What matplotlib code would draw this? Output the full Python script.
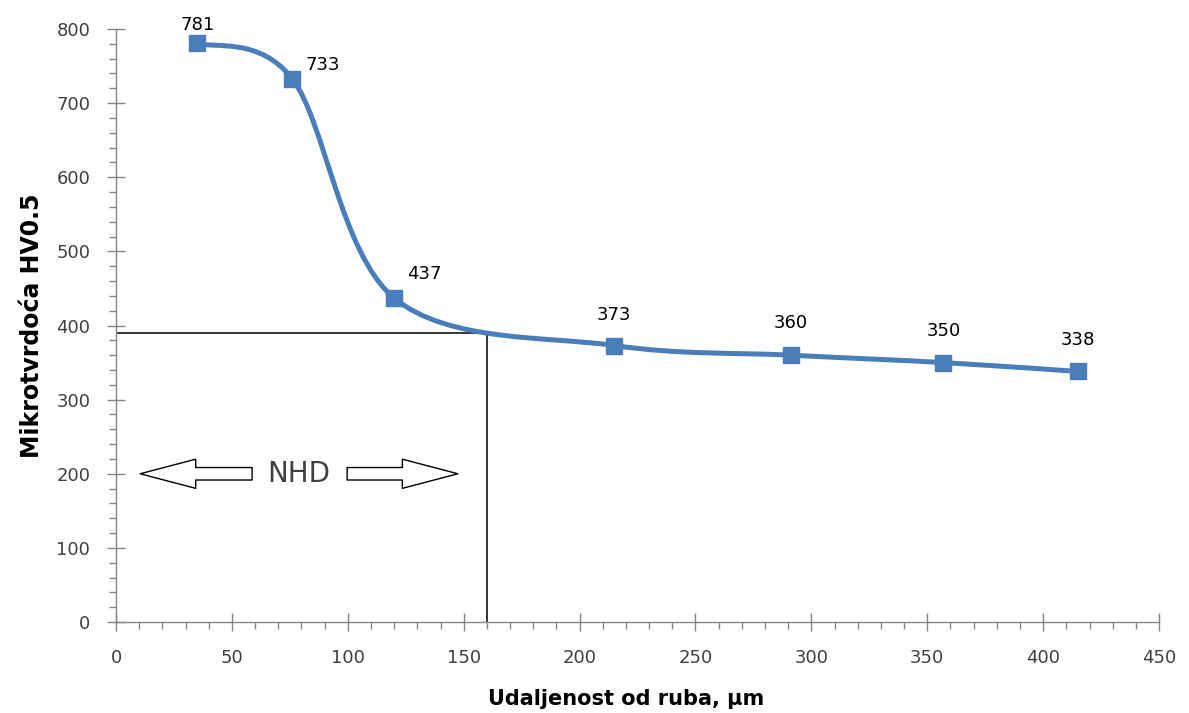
import matplotlib
matplotlib.use("Agg")
import matplotlib.pyplot as plt
from matplotlib.path import Path
from matplotlib.patches import PathPatch, FancyArrowPatch
from matplotlib.ticker import MultipleLocator
import numpy as np

# measured microhardness profile
distance = [35, 76, 120, 215, 291, 357, 415]
hardness = [781, 733, 437, 373, 360, 350, 338]
labels = ["781", "733", "437", "373", "360", "350", "338"]

# NHD limit lines
nhd_x = 160
nhd_y = 390

BLUE = "#4A7EBB"
GREY_TXT = "#404040"
AXIS_GREY = "#868686"


def excel_smooth_path(xs, ys):
    """Cubic bezier through the points, roughly like Excel's smoothed line."""
    pts = np.column_stack([xs, ys]).astype(float)
    ext = np.vstack([pts[0], pts, pts[-1]])
    verts = [tuple(pts[0])]
    codes = [Path.MOVETO]
    for i in range(1, len(ext) - 2):
        p0, p1, p2, p3 = ext[i - 1], ext[i], ext[i + 1], ext[i + 2]
        c1 = p1 + (p2 - p0) / 6
        c2 = p2 - (p3 - p1) / 6
        verts += [tuple(c1), tuple(c2), tuple(p2)]
        codes += [Path.CURVE4] * 3
    return Path(verts, codes)


fig = plt.figure(figsize=(11.89, 7.13), dpi=100)
ax = fig.add_axes([0.0976, 0.1276, 0.8772, 0.8317])

ax.set_xlim(0, 450)
ax.set_ylim(0, 800)

# NHD lines
ax.plot([0, nhd_x], [nhd_y, nhd_y], color="black", lw=1.1, zorder=2)
ax.plot([nhd_x, nhd_x], [0, nhd_y], color="black", lw=1.1, zorder=2)

# smoothed line + markers
ax.add_patch(PathPatch(excel_smooth_path(distance, hardness), fill=False,
                       ec=BLUE, lw=3.6, capstyle="round", zorder=3))
ax.plot(distance, hardness, ls="none", marker="s", ms=11.5, color=BLUE, zorder=4)

# data labels, offsets in points (first three sit off to the side)
offsets = [(0, 13), (22, 10), (22, 17), (0, 22), (0, 23), (0, 23), (0, 23)]
for (x, y, t), (dx, dy) in zip(zip(distance, hardness, labels), offsets):
    ax.annotate(t, (x, y), xytext=(dx, dy), textcoords="offset points",
                ha="center", va="center", fontsize=13, color="black")

# NHD arrows
style = "simple,head_length=40,head_width=21,tail_width=9"
ax.add_patch(FancyArrowPatch((58.7, 200), (10.4, 200), arrowstyle=style,
                             mutation_scale=1, fc="white", ec="black", lw=1.0,
                             shrinkA=0, shrinkB=0, zorder=3))
ax.add_patch(FancyArrowPatch((99.7, 200), (147.5, 200), arrowstyle=style,
                             mutation_scale=1, fc="white", ec="black", lw=1.0,
                             shrinkA=0, shrinkB=0, zorder=3))
ax.text(79, 200, "NHD", ha="center", va="center", fontsize=20, color=GREY_TXT)

# axes styling
for s in ["top", "right"]:
    ax.spines[s].set_visible(False)
for s in ["left", "bottom"]:
    ax.spines[s].set_color(AXIS_GREY)
    ax.spines[s].set_linewidth(1.0)

ax.xaxis.set_major_locator(MultipleLocator(50))
ax.xaxis.set_minor_locator(MultipleLocator(10))
ax.yaxis.set_major_locator(MultipleLocator(100))
ax.yaxis.set_minor_locator(MultipleLocator(20))
ax.tick_params(which="major", direction="inout", length=13, width=1.0,
               color=AXIS_GREY, labelsize=13, labelcolor=GREY_TXT)
ax.tick_params(which="minor", direction="out", length=5, width=1.0, color=AXIS_GREY)
ax.tick_params(axis="x", which="major", pad=13)
ax.tick_params(axis="y", which="major", pad=12)

ax.set_xlabel("Udaljenost od ruba, μm", fontsize=15, fontweight="bold")
ax.set_ylabel("Mikrotvrdoća HV0.5", fontsize=17, fontweight="bold", labelpad=9)
# label sits a little left of centre in the original
ax.xaxis.set_label_coords(0.489, -0.113)

fig.savefig("out.png", dpi=100)
